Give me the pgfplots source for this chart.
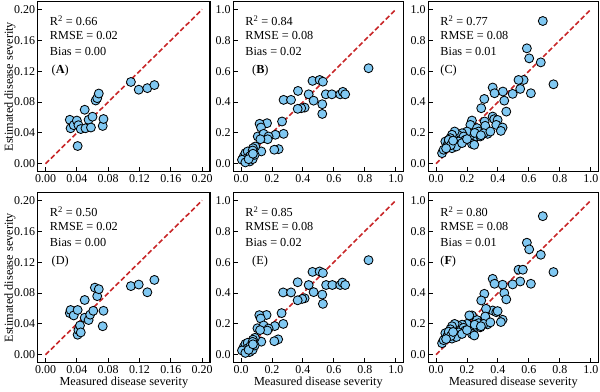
\documentclass[border=0pt]{standalone}
\usepackage{pgfplots}
\pgfplotsset{compat=1.18}
\usepackage{pgfplotstable}
\usepackage{fontspec}
\setmainfont{Liberation Serif}
\definecolor{dotblue}{RGB}{128,200,242}
\definecolor{linered}{RGB}{200,38,40}

\pgfplotstableread{
x y
0.031 0.057
0.032 0.046
0.036 0.050
0.040 0.056
0.041 0.023
0.042 0.050
0.045 0.045
0.050 0.070
0.051 0.046
0.055 0.057
0.058 0.047
0.060 0.061
0.064 0.082
0.066 0.085
0.068 0.091
0.073 0.049
0.074 0.058
0.109 0.106
0.119 0.096
0.130 0.098
0.139 0.102
}\dataA

\pgfplotstableread{
x y
0.031 0.054
0.032 0.058
0.036 0.051
0.041 0.058
0.041 0.026
0.042 0.032
0.044 0.038
0.045 0.029
0.050 0.071
0.050 0.048
0.055 0.045
0.057 0.052
0.061 0.057
0.063 0.087
0.066 0.076
0.068 0.085
0.073 0.037
0.074 0.057
0.109 0.089
0.119 0.091
0.130 0.081
0.139 0.097
}\dataD

\pgfplotstableread{
x y
0.824 0.619
0.462 0.537
0.508 0.543
0.529 0.532
0.368 0.472
0.437 0.450
0.548 0.450
0.587 0.450
0.641 0.450
0.658 0.466
0.673 0.450
0.275 0.414
0.323 0.414
0.469 0.409
0.525 0.386
0.525 0.323
0.411 0.364
0.389 0.360
0.366 0.356
0.265 0.274
0.275 0.194
0.243 0.095
0.215 0.091
0.222 0.188
0.168 0.263
0.120 0.259
0.129 0.235
0.108 0.177
0.146 0.194
0.178 0.177
0.172 0.159
0.125 0.159
0.131 0.080
0.092 0.112
0.077 0.101
0.060 0.080
0.017 0.047
0.028 0.069
0.043 0.080
0.075 0.086
0.039 0.037
0.056 0.015
0.075 0.030
0.088 0.058
0.006 0.026
0.028 0.009
0.060 0.052
0.049 0.030
0.077 0.065
}\dataB

\pgfplotstableread{
x y
0.824 0.613
0.462 0.537
0.508 0.540
0.529 0.530
0.366 0.470
0.437 0.452
0.550 0.452
0.590 0.452
0.641 0.452
0.655 0.468
0.673 0.452
0.272 0.404
0.323 0.404
0.469 0.406
0.525 0.390
0.529 0.330
0.411 0.366
0.395 0.362
0.366 0.353
0.262 0.270
0.273 0.200
0.240 0.100
0.215 0.088
0.218 0.186
0.165 0.258
0.118 0.257
0.127 0.235
0.106 0.172
0.146 0.190
0.178 0.170
0.170 0.157
0.123 0.160
0.131 0.085
0.090 0.110
0.077 0.098
0.060 0.078
0.017 0.050
0.028 0.070
0.043 0.078
0.075 0.084
0.039 0.040
0.056 0.018
0.075 0.032
0.088 0.060
0.006 0.028
0.028 0.012
0.060 0.055
0.049 0.032
0.077 0.068
}\dataE

\pgfplotstableread{
x y
0.690 0.925
0.587 0.748
0.602 0.683
0.677 0.657
0.759 0.515
0.566 0.543
0.533 0.543
0.544 0.485
0.613 0.457
0.495 0.453
0.432 0.468
0.366 0.494
0.378 0.457
0.441 0.409
0.312 0.420
0.454 0.338
0.292 0.360
0.366 0.306
0.376 0.289
0.398 0.284
0.389 0.252
0.430 0.235
0.419 0.213
0.314 0.274
0.318 0.246
0.333 0.194
0.232 0.280
0.222 0.252
0.265 0.231
0.275 0.209
0.260 0.177
0.215 0.177
0.232 0.129
0.247 0.123
0.200 0.209
0.168 0.198
0.140 0.188
0.120 0.209
0.103 0.188
0.092 0.166
0.060 0.144
0.077 0.129
0.039 0.069
0.049 0.091
0.071 0.112
0.103 0.101
0.125 0.123
0.157 0.155
0.178 0.177
0.146 0.144
0.189 0.155
0.082 0.155
0.114 0.134
0.131 0.112
0.168 0.134
0.286 0.177
0.308 0.198
0.351 0.209
0.250 0.200
0.290 0.185
0.200 0.160
0.095 0.120
0.065 0.100
0.110 0.150
}\dataC

\pgfplotstableread{
x y
0.690 0.898
0.587 0.726
0.602 0.683
0.677 0.648
0.759 0.536
0.533 0.551
0.561 0.551
0.544 0.475
0.613 0.460
0.495 0.456
0.430 0.454
0.366 0.492
0.378 0.460
0.441 0.400
0.454 0.359
0.312 0.395
0.292 0.352
0.366 0.287
0.389 0.276
0.398 0.283
0.430 0.227
0.419 0.212
0.323 0.298
0.318 0.248
0.333 0.197
0.232 0.255
0.215 0.255
0.265 0.225
0.275 0.205
0.260 0.180
0.215 0.172
0.232 0.135
0.247 0.125
0.200 0.200
0.168 0.195
0.140 0.190
0.120 0.200
0.103 0.185
0.092 0.165
0.060 0.140
0.077 0.128
0.039 0.075
0.049 0.095
0.071 0.115
0.103 0.105
0.125 0.125
0.157 0.158
0.178 0.175
0.146 0.145
0.189 0.158
0.082 0.150
0.114 0.135
0.131 0.115
0.168 0.135
0.286 0.178
0.308 0.200
0.351 0.210
0.250 0.195
0.290 0.185
0.200 0.160
0.095 0.122
0.065 0.102
0.110 0.148
}\dataF

\pgfplotsset{
  panel/.style={
    scale only axis,
    height=169.8bp,
    axis line style={line width=1.1pt},
    tick align=inside,
    xtick pos=bottom, ytick pos=left,
    major tick length=4.5pt,
    tick style={black, line width=0.9pt},
    ticklabel style={font=\fontsize{12}{14}\selectfont},
    yticklabel style={inner sep=2.5bp},
    xticklabel style={inner sep=3bp},
    label style={font=\fontsize{12.3}{14}\selectfont},
    ylabel style={at={(axis description cs:-0.161,0.5)}, anchor=center, rotate=0},
    xlabel style={at={(axis description cs:0.5,-0.12)}, anchor=center},
    /pgf/number format/assume math mode=true,
    /pgf/number format/fixed, /pgf/number format/fixed zerofill,
    clip=false,
  },
  small/.style={
    xmin=-0.01, xmax=0.21, ymin=-0.01, ymax=0.21,
    xtick={0,0.04,...,0.201}, ytick={0,0.04,...,0.201},
    /pgf/number format/precision=2,
  },
  big/.style={
    xmin=-0.05, xmax=1.05, ymin=-0.05, ymax=1.05,
    xtick={0,0.2,...,1.01}, ytick={0,0.2,...,1.01},
    /pgf/number format/precision=1,
  },
  dots/.style={only marks, mark=*, mark size=4.5pt,
    mark options={fill=dotblue, draw=black, line width=0.85pt}},
  oneone/.style={linered, line width=1.6pt, dash pattern=on 5pt off 2.6pt},
}
\newcommand{\stats}[4]{%
  \node[anchor=west, font=\fontsize{12.3}{14}\selectfont, inner sep=0pt] at (rel axis cs:0.07,0.888) {R\textsuperscript{2} = #1};
  \node[anchor=west, font=\fontsize{12.3}{14}\selectfont, inner sep=0pt] at (rel axis cs:0.07,0.798) {RMSE = #2};
  \node[anchor=west, font=\fontsize{12.3}{14}\selectfont, inner sep=0pt] at (rel axis cs:0.07,0.705) {Bias = #3};
  \node[anchor=west, font=\fontsize{12.3}{14}\selectfont, inner sep=0pt] at (rel axis cs:#4,0.592) {(\csname panelname\endcsname)};
}

\begin{document}
\begin{tikzpicture}
\path[use as bounding box] (0,0) rectangle (600bp,-392bp);

% A
\begin{axis}[panel, small, width=172.3bp, at={(37.7bp,-1.7bp)}, anchor=north west,
  ylabel={Estimated disease severity}]
\addplot[dots] table {\dataA};
\addplot[oneone] coordinates {(0,0) (0.2,0.2)};
\def\panelname{\textbf{A}}
\stats{0.66}{0.02}{0.00}{0.08}
\end{axis}

% B
\begin{axis}[panel, big, width=170.2bp, at={(233.3bp,-1.7bp)}, anchor=north west]
\addplot[dots] table {\dataB};
\addplot[oneone] coordinates {(0,0) (1,1)};
\def\panelname{\textbf{B}}
\stats{0.84}{0.08}{0.02}{0.11}
\end{axis}

% C
\begin{axis}[panel, big, width=170.2bp, at={(428.3bp,-1.7bp)}, anchor=north west]
\addplot[dots] table {\dataC};
\addplot[oneone] coordinates {(0,0) (1,1)};
\def\panelname{C}
\stats{0.77}{0.08}{0.01}{0.07}
\end{axis}

% D
\begin{axis}[panel, small, width=172.3bp, at={(37.7bp,-192.7bp)}, anchor=north west,
  ylabel={Estimated disease severity}, xlabel={Measured disease severity}]
\addplot[dots] table {\dataD};
\addplot[oneone] coordinates {(0,0) (0.2,0.2)};
\def\panelname{D}
\stats{0.50}{0.02}{0.00}{0.08}
\end{axis}

% E
\begin{axis}[panel, big, width=170.2bp, at={(233.3bp,-192.7bp)}, anchor=north west,
  xlabel={Measured disease severity}]
\addplot[dots] table {\dataE};
\addplot[oneone] coordinates {(0,0) (1,1)};
\def\panelname{E}
\stats{0.85}{0.08}{0.02}{0.11}
\end{axis}

% F
\begin{axis}[panel, big, width=170.2bp, at={(428.3bp,-192.7bp)}, anchor=north west,
  xlabel={Measured disease severity}]
\addplot[dots] table {\dataF};
\addplot[oneone] coordinates {(0,0) (1,1)};
\def\panelname{\textbf{F}}
\stats{0.80}{0.08}{0.01}{0.07}
\end{axis}
\end{tikzpicture}
\end{document}
